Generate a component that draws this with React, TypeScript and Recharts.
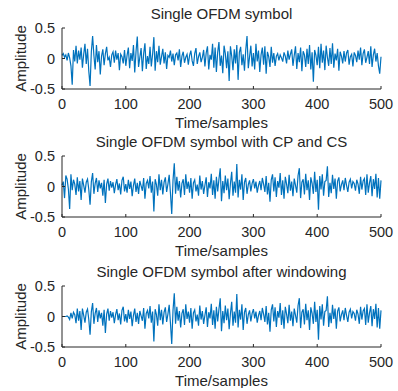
import React from 'react';
import { LineChart, Line, XAxis, YAxis } from 'recharts';

// samples are read every 2nd point off the picture (0..500)
const SAMPLE_STEP = 2;

const xTicks = [0, 100, 200, 300, 400, 500];
const yTicks = [-0.5, 0, 0.5];

const titles = [
  'Single OFDM symbol',
  'Single OFDM symbol with CP and CS',
  'Single OFDM symbol after windowing',
];

const symbolPlain = [
  0.05, 0.08, 0.02, 0.06, -0.03, 0.09, 0.01, -0.12, -0.43, 0.14,
  -0.05, 0.21, -0.08, 0.13, -0.02, 0.18, -0.15, 0.07, 0.24, -0.09,
  0.16, -0.21, -0.45, 0.11, 0.37, 0.05, -0.18, 0.22, -0.06, 0.12,
  -0.26, 0.04, 0.15, -0.11, 0.08, 0.19, -0.03, 0.02, -0.14, 0.06,
  0.11, -0.07, 0.13, -0.02, 0.09, -0.19, 0.07, 0.03, -0.08, 0.14,
  -0.12, 0.05, 0.18, -0.16, 0.09, -0.04, 0.22, -0.23, 0.11, 0.36,
  -0.14, 0.02, 0.17, -0.21, 0.08, 0.25, -0.17, 0.04, -0.09, 0.19,
  -0.13, 0.07, 0.35, -0.2, 0.12, -0.06, 0.21, -0.1, 0.03, 0.16,
  -0.08, 0.1, -0.17, 0.05, 0.02, 0.13, -0.05, 0.08, -0.11, 0.06,
  0.09, -0.03, 0.15, -0.14, 0.04, 0.11, -0.07, 0.02, 0.07, -0.1,
  0.05, 0.13, -0.04, -0.12, 0.08, 0.17, -0.09, 0.03, 0.1, -0.06,
  0.02, 0.14, -0.13, 0.09, 0.2, -0.18, 0.06, -0.02, 0.24, -0.15,
  0.18, -0.22, 0.1, 0.27, -0.12, 0.05, -0.24, 0.21, 0.08, -0.16,
  0.12, -0.37, 0.2, 0.04, -0.19, 0.15, -0.08, 0.22, -0.35, 0.1,
  0.19, -0.11, 0.07, -0.2, 0.14, 0.37, -0.16, 0.03, 0.21, -0.13,
  0.09, -0.18, 0.24, -0.05, 0.13, -0.22, 0.06, 0.18, -0.1, 0.2,
  -0.25, 0.11, 0.03, -0.14, 0.19, -0.07, 0.09, -0.12, 0.04, 0.08,
  -0.03, 0.06, 0.01, -0.05, 0.1, 0.04, -0.08, 0.13, -0.02, 0.07,
  0.15, -0.12, 0.05, 0.2, -0.17, 0.09, -0.06, 0.18, -0.21, 0.12,
  0.06, -0.14, 0.16, -0.09, 0.22, -0.18, 0.1, -0.38, 0.14, 0.05,
  -0.11, 0.19, -0.16, 0.24, -0.07, 0.13, -0.19, 0.21, 0.02, -0.12,
  0.17, -0.09, 0.25, -0.15, 0.08, -0.03, 0.16, -0.2, 0.11, 0.04,
  -0.08, 0.12, -0.05, 0.09, 0.14, -0.1, 0.03, 0.07, -0.13, 0.1,
  0.05, -0.06, 0.13, -0.02, 0.18, -0.11, 0.08, 0.15, -0.07, 0.02,
  0.12, -0.09, 0.2, -0.14, 0.06, 0.16, -0.05, 0.09, -0.12, -0.25, 0.03,
];

const symbolCpCs = [
  0.02, 0.08, -0.19, 0.18, 0.12, -0.04, -0.37, 0.2, -0.06, 0.11,
  0.04, -0.14, 0.15, -0.08, 0.09, -0.22, 0.13, 0.02, -0.1, 0.07,
  0.12, -0.05, -0.3, 0.08, 0.22, -0.12, 0.05, 0.14, -0.09, 0.1,
  -0.03, 0.06, -0.15, 0.11, -0.27, 0.04, 0.13, -0.07, 0.09, -0.02,
  0.07, -0.11, 0.03, 0.12, -0.06, 0.05, -0.13, 0.1, 0.16, -0.08,
  0.04, -0.1, 0.11, -0.04, 0.08, -0.16, 0.02, 0.13, -0.09, 0.06,
  -0.12, 0.09, 0.01, -0.07, 0.14, -0.2, 0.05, 0.1, -0.03, 0.17,
  -0.1, 0.08, -0.41, 0.12, 0.03, -0.15, 0.2, -0.06, 0.11, -0.13,
  0.07, 0.15, -0.09, 0.04, 0.19, -0.11, -0.45, 0.1, 0.38, -0.12,
  0.16, -0.07, 0.09, -0.18, 0.05, 0.12, -0.14, 0.2, -0.04, 0.08,
  -0.1, 0.14, -0.2, 0.06, 0.11, -0.08, 0.03, -0.15, 0.18, -0.05,
  0.09, -0.12, 0.02, 0.15, -0.17, 0.07, -0.03, 0.21, -0.14, 0.1,
  -0.2, 0.16, -0.08, 0.12, 0.3, -0.24, 0.09, -0.11, 0.18, -0.06,
  0.13, -0.21, 0.05, 0.24, -0.15, 0.08, -0.1, 0.37, -0.18, 0.11,
  -0.05, 0.2, -0.22, 0.07, 0.14, -0.12, 0.03, 0.1, -0.08, 0.05,
  0.12, -0.03, 0.08, -0.1, 0.02, 0.09, -0.06, 0.14, 0.04, -0.09,
  0.17, -0.13, 0.06, -0.25, 0.11, 0.2, -0.08, 0.15, -0.17, 0.09,
  -0.02, 0.22, -0.14, 0.1, -0.2, 0.16, 0.04, -0.11, 0.19, -0.07,
  0.08, -0.16, 0.13, 0.02, -0.1, 0.18, 0.3, -0.19, 0.07, 0.12,
  -0.13, 0.21, -0.06, 0.1, -0.22, 0.15, 0.05, -0.12, 0.24, -0.09,
  0.11, -0.38, 0.17, -0.05, 0.2, -0.15, 0.08, 0.1, 0.33, -0.17,
  0.06, -0.11, 0.19, -0.04, 0.13, -0.2, 0.09, 0.15, -0.08, 0.03,
  0.1, -0.06, 0.14, 0.02, -0.09, 0.07, 0.12, -0.03, 0.08, 0.05,
  -0.07, 0.11, 0.04, -0.12, 0.16, -0.05, 0.09, 0.13, -0.14, 0.2,
  -0.1, 0.06, 0.17, -0.16, 0.12, -0.04, 0.21, -0.18, 0.14, -0.2, 0.1,
];

const symbolWindowed = [
  0, 0, 0, 0, 0.01, -0.01, -0.05, 0.06, -0.03, 0.07,
  0.03, -0.11, 0.13, -0.07, 0.09, -0.22, 0.13, 0.02, -0.1, 0.07,
  0.12, -0.05, -0.3, 0.08, 0.22, -0.12, 0.05, 0.14, -0.09, 0.1,
  -0.03, 0.06, -0.15, 0.11, -0.27, 0.04, 0.13, -0.07, 0.09, -0.02,
  0.07, -0.11, 0.03, 0.12, -0.06, 0.05, -0.13, 0.1, 0.16, -0.08,
  0.04, -0.1, 0.11, -0.04, 0.08, -0.16, 0.02, 0.13, -0.09, 0.06,
  -0.12, 0.09, 0.01, -0.07, 0.14, -0.2, 0.05, 0.1, -0.03, 0.17,
  -0.1, 0.08, -0.41, 0.12, 0.03, -0.15, 0.2, -0.06, 0.11, -0.13,
  0.07, 0.15, -0.09, 0.04, 0.19, -0.11, -0.45, 0.1, 0.38, -0.12,
  0.16, -0.07, 0.09, -0.18, 0.05, 0.12, -0.14, 0.2, -0.04, 0.08,
  -0.1, 0.14, -0.2, 0.06, 0.11, -0.08, 0.03, -0.15, 0.18, -0.05,
  0.09, -0.12, 0.02, 0.15, -0.17, 0.07, -0.03, 0.21, -0.14, 0.1,
  -0.2, 0.16, -0.08, 0.12, 0.3, -0.24, 0.09, -0.11, 0.18, -0.06,
  0.13, -0.21, 0.05, 0.24, -0.15, 0.08, -0.1, 0.37, -0.18, 0.11,
  -0.05, 0.2, -0.22, 0.07, 0.14, -0.12, 0.03, 0.1, -0.08, 0.05,
  0.12, -0.03, 0.08, -0.1, 0.02, 0.09, -0.06, 0.14, 0.04, -0.09,
  0.17, -0.13, 0.06, -0.25, 0.11, 0.2, -0.08, 0.15, -0.17, 0.09,
  -0.02, 0.22, -0.14, 0.1, -0.2, 0.16, 0.04, -0.11, 0.19, -0.07,
  0.08, -0.16, 0.13, 0.02, -0.1, 0.18, 0.3, -0.19, 0.07, 0.12,
  -0.13, 0.21, -0.06, 0.1, -0.22, 0.15, 0.05, -0.12, 0.24, -0.09,
  0.11, -0.38, 0.17, -0.05, 0.2, -0.15, 0.08, 0.1, 0.33, -0.17,
  0.06, -0.11, 0.19, -0.04, 0.13, -0.2, 0.09, 0.15, -0.08, 0.03,
  0.1, -0.06, 0.14, 0.02, -0.09, 0.07, 0.12, -0.03, 0.08, 0.05,
  -0.07, 0.11, 0.04, -0.12, 0.16, -0.05, 0.09, 0.13, -0.14, 0.2,
  -0.1, 0.06, 0.17, -0.16, 0.12, -0.04, 0.21, -0.18, 0.14, -0.2, 0.1,
];

const FONT = '"Liberation Sans", Arial, Helvetica, sans-serif';
const INK = '#262626';
const LINE = '#0072BD';

const toRows = (values: number[]) =>
  values.map((v, i) => ({ t: i * SAMPLE_STEP, v }));

const renderYLabel = () => (
  <text
    x={20}
    y={58.5}
    transform="rotate(-90 20 58.5)"
    textAnchor="middle"
    dominantBaseline="central"
    fontSize={15}
    fontFamily={FONT}
    fill={INK}
  >
    Amplitude
  </text>
);

function Subplot({ title, values, top }: { title: string; values: number[]; top: number }) {
  const data = toRows(values);
  return (
    <div style={{ position: 'absolute', left: 0, top, width: 398, height: 130 }}>
      {/* title sits above the axes box, centred on it */}
      <div
        style={{
          position: 'absolute',
          left: 62,
          width: 319,
          top: 6,
          textAlign: 'center',
          fontFamily: FONT,
          fontSize: 15,
          lineHeight: '15px',
          color: INK,
          whiteSpace: 'nowrap',
        }}
      >
        {title}
      </div>
      <LineChart width={398} height={130} data={data} margin={{ top: 28, right: 17, bottom: 13, left: 22 }}>
        <XAxis
          dataKey="t"
          type="number"
          domain={[0, 500]}
          ticks={xTicks}
          interval={0}
          height={28}
          tickSize={-3}
          tickMargin={13}
          stroke={INK}
          tick={{ fontSize: 14.5, fill: INK, fontFamily: FONT }}
          label={{ value: 'Time/samples', position: 'bottom', offset: 0, fontSize: 15, fill: INK, fontFamily: FONT }}
        />
        <XAxis
          xAxisId="top"
          orientation="top"
          dataKey="t"
          type="number"
          domain={[0, 500]}
          ticks={xTicks}
          interval={0}
          height={0}
          tickSize={-3}
          tick={false}
          stroke={INK}
        />
        <YAxis
          type="number"
          domain={[-0.5, 0.5]}
          ticks={yTicks}
          interval={0}
          width={40}
          tickSize={-3}
          tickMargin={10}
          stroke={INK}
          tick={{ fontSize: 14.5, fill: INK, fontFamily: FONT }}
          label={renderYLabel}
        />
        <YAxis
          yAxisId="right"
          orientation="right"
          type="number"
          domain={[-0.5, 0.5]}
          ticks={yTicks}
          interval={0}
          width={0}
          tickSize={-3}
          tick={false}
          stroke={INK}
        />
        <Line
          type="linear"
          dataKey="v"
          stroke={LINE}
          strokeWidth={1.2}
          dot={false}
          isAnimationActive={false}
        />
      </LineChart>
    </div>
  );
}

export default function App() {
  return (
    <div style={{ position: 'absolute', left: 0, top: 0, width: 398, height: 391, background: '#fff' }}>
      <Subplot title={titles[0]} values={symbolPlain} top={0} />
      <Subplot title={titles[1]} values={symbolCpCs} top={128} />
      <Subplot title={titles[2]} values={symbolWindowed} top={258} />
    </div>
  );
}
